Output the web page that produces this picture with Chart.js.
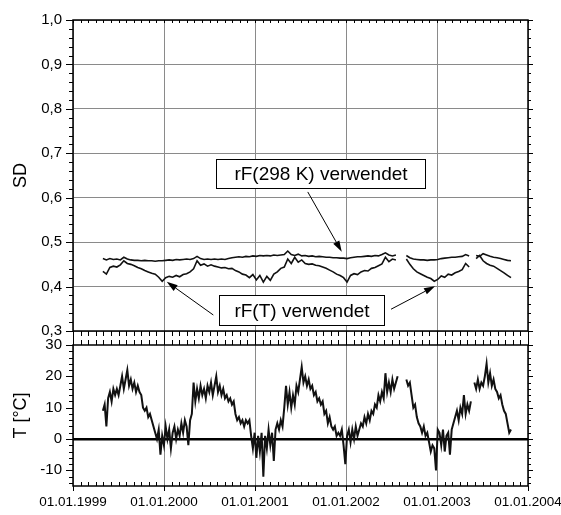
<!DOCTYPE html>
<html>
<head>
<meta charset="utf-8">
<script src="https://cdn.jsdelivr.net/npm/chart.js@4.4.0/dist/chart.umd.min.js"></script>
<style>
  body { margin: 0; background: #fff; }
  #wrap { position: relative; width: 561px; height: 515px; }
  #wrap canvas { position: absolute; left: 0; top: 0; }
</style>
</head>
<body>
<div id="wrap">
  <canvas id="sdChart" width="561" height="515"></canvas>
  <canvas id="tChart" width="561" height="515"></canvas>
</div>
<script>
// tick values
const yearTicks = [1999, 2000, 2001, 2002, 2003, 2004];
const sdTicks = [0.3, 0.4, 0.5, 0.6, 0.7, 0.8, 0.9, 1.0];
const tTicks = [-10, 0, 10, 20, 30];

// temperature, one value per week starting 01.05.1999 (null = no data)
const tStartDay = 120;
const tStepDays = 7;
const tempValues = [
  9, 11, 4, 13, 15, 12, 16, 14, 16, 14,
  17, 20, 16, 19, 22, 17, 19, 16, 18, 15,
  17, 15, 14, 10, 9, 10, 7, 8, 6, 4,
  2, 0, 3, -5, 1, -2, 4, 0, 3, -3,
  2, 4, 0, 3, 1, 5, 2, 6, 4, -2,
  6, 8, 18, 12, 16, 13, 17, 14, 16, 13,
  17, 15, 18, 14, 17, 20, 15, 17, 14, 16,
  13, 14, 12, 13, 11, 12, 8, 6, 7, 5,
  6, 4, 6, 5, 6, 1, -3, 2, -6, 1,
  -4, 2, -12, 1, -3, 3, -2, 2, -7, 3,
  5, 3, 6, 4, 10, 17, 11, 15, 10, 14,
  11, 17, 15, 19, 23, 18, 20, 17, 19, 16,
  17, 14, 15, 12, 13, 11, 12, 8, 9, 5,
  7, 4, 3, 4, 1, 2, 1, 3, -2, -8,
  1, 3, -1, 3, 0, 4, 1, 3, 5, 4,
  7, 5, 8, 6, 9, 8, 11, 10, 14, 12,
  15, 13, 21, 15, 18, 15, 19, 16, 18, 20,
  null, null, null, null, 19, 17, 18, 14, 10, 11,
  7, 5, 4, 2, 4, 1, 2, -1, -4, -2,
  -3, -10, 3, 2, -2, 3, -4, 1, 2, -5,
  3, 5, 7, 9, 6, 10, 8, 14, 8, 11,
  9, 12, null, 18, 16, 19, 16, 18, 17, 20,
  24, 18, 21, 17, 19, 16, 15, 13, 14, 11,
  9, 8, 5, 2, 3
];

// SD, one value every two weeks starting 01.05.1999
const sdStartDay = 120;
const sdStepDays = 14;
const sdFixed = [ // rF(298 K)
  0.463, 0.460, 0.463, 0.461, 0.462, 0.460, 0.466, 0.462, 0.460, 0.459,
  0.459, 0.458, 0.459, 0.458, 0.458, 0.457, 0.458, 0.458, 0.459, 0.460,
  0.459, 0.461, 0.460, 0.461, 0.462, 0.461, 0.463, 0.468, 0.463, 0.461,
  0.462, 0.461, 0.462, 0.461, 0.462, 0.461, 0.463, 0.465, 0.466, 0.467,
  0.466, 0.468, 0.467, 0.469, 0.468, 0.470, 0.469, 0.470, 0.469, 0.471,
  0.470, 0.471, 0.472, 0.480, 0.472, 0.470, 0.473, 0.469, 0.470, 0.468,
  0.469, 0.467, 0.468, 0.467, 0.466, 0.466, 0.465, 0.465, 0.464, 0.464,
  0.463, 0.465, 0.466, 0.467, 0.467, 0.468, 0.469, 0.468, 0.470, 0.469,
  0.472, 0.476, 0.471, 0.469, 0.471, null, null, 0.470, 0.465, 0.462,
  0.461, 0.460, 0.460, 0.459, 0.460, 0.460, 0.461, 0.463, 0.464, 0.465,
  0.466, 0.466, 0.467, 0.468, 0.472, 0.469, null, 0.470, 0.468, 0.474,
  0.471, 0.468, 0.466, 0.465, 0.463, 0.461, 0.459, 0.458
];
const sdVariable = [ // rF(T)
  0.434, 0.428, 0.443, 0.446, 0.444, 0.449, 0.458, 0.452, 0.450, 0.447,
  0.443, 0.440, 0.436, 0.433, 0.430, 0.428, 0.421, 0.412, 0.420, 0.423,
  0.421, 0.425, 0.422, 0.427, 0.429, 0.433, 0.440, 0.458, 0.448, 0.451,
  0.446, 0.449, 0.446, 0.444, 0.442, 0.443, 0.440, 0.441, 0.436, 0.433,
  0.428, 0.426, 0.420, 0.427, 0.415, 0.425, 0.410, 0.423, 0.414, 0.428,
  0.433, 0.441, 0.444, 0.462, 0.452, 0.466, 0.455, 0.460, 0.452, 0.450,
  0.451, 0.448, 0.447, 0.444, 0.441, 0.437, 0.433, 0.428, 0.425, 0.420,
  0.410, 0.425, 0.429, 0.427, 0.433, 0.436, 0.435, 0.441, 0.443, 0.447,
  0.451, 0.466, 0.456, 0.462, 0.460, null, null, 0.462, 0.450, 0.440,
  0.433, 0.429, 0.425, 0.421, 0.418, 0.412, 0.416, 0.424, 0.421, 0.428,
  0.426, 0.431, 0.434, 0.438, 0.452, 0.444, null, 0.463, 0.470, 0.458,
  0.452, 0.448, 0.446, 0.441, 0.436, 0.431, 0.425, 0.420
];

// labels with arrows, in data coordinates
const notes = [
  { text: 'rF(298 K) verwendet', box: [2000.57, 0.687, 2002.87, 0.622],
    arrows: [[2001.58, 0.613, 2001.953, 0.4785]] },
  { text: 'rF(T) verwendet', box: [2000.60, 0.380, 2002.42, 0.313],
    arrows: [[2000.542, 0.336, 2000.03, 0.411], [2002.495, 0.349, 2002.978, 0.401]] }
];

function toPoints(values, startDay, step) {
  return values.map((v, i) => ({ x: 1999 + (startDay + i * step) / 365.25, y: v }));
}

const FONT = "'Liberation Sans', Arial, sans-serif";
Chart.defaults.font.family = FONT;
Chart.defaults.color = '#000';

const months = [];
for (let y = 1999; y < 2004; y++) for (let m = 1; m < 12; m++) months.push(y + m / 12);

const framePlugin = {
  id: 'frame',
  afterDraw(chart, args, opts) {
    const { ctx, chartArea: a } = chart;
    const xs = chart.scales.x, ys = chart.scales.y;
    ctx.save();
    ctx.strokeStyle = '#000';
    ctx.lineWidth = 1;
    const tick = (px, py, dx, dy) => {
      ctx.beginPath(); ctx.moveTo(px, py); ctx.lineTo(px + dx, py + dy); ctx.stroke();
    };
    months.forEach(v => {
      const px = Math.round(xs.getPixelForValue(v)) + 0.5;
      tick(px, a.top, 0, opts.topMinor);
      tick(px, a.bottom, 0, opts.bottomMinor);
    });
    yearTicks.forEach(v => {
      const px = Math.round(xs.getPixelForValue(v)) + 0.5;
      tick(px, a.top, 0, opts.topMajor);
      tick(px, a.bottom, 0, opts.bottomMajor);
    });
    for (let v = opts.yMin; v <= opts.yMax + 1e-9; v += opts.yMinor) {
      const py = Math.round(ys.getPixelForValue(v)) + 0.5;
      tick(a.left, py, -4, 0);
      tick(a.right, py, 3, 0);
    }
    opts.yMajors.forEach(v => {
      const py = Math.round(ys.getPixelForValue(v)) + 0.5;
      tick(a.left, py, -7, 0);
      tick(a.right, py, 5, 0);
    });
    ctx.lineWidth = 1.5;
    ctx.strokeRect(a.left, a.top, a.right - a.left, a.bottom - a.top);
    ctx.restore();
  }
};

const notesPlugin = {
  id: 'notes',
  afterDatasetsDraw(chart) {
    const { ctx } = chart;
    const xs = chart.scales.x, ys = chart.scales.y;
    ctx.save();
    ctx.strokeStyle = '#000';
    ctx.fillStyle = '#000';
    ctx.lineWidth = 1;
    notes.forEach(n => {
      n.arrows.forEach(([x0, y0, x1, y1]) => {
        const ax = xs.getPixelForValue(x0), ay = ys.getPixelForValue(y0);
        const bx = xs.getPixelForValue(x1), by = ys.getPixelForValue(y1);
        const ang = Math.atan2(by - ay, bx - ax);
        const len = 11, hw = 3.5;
        const cx = bx - len * Math.cos(ang), cy = by - len * Math.sin(ang);
        ctx.beginPath(); ctx.moveTo(ax, ay); ctx.lineTo(cx, cy); ctx.stroke();
        ctx.beginPath();
        ctx.moveTo(bx, by);
        ctx.lineTo(cx + hw * Math.sin(ang), cy - hw * Math.cos(ang));
        ctx.lineTo(cx - hw * Math.sin(ang), cy + hw * Math.cos(ang));
        ctx.closePath(); ctx.fill();
      });
      const l = Math.round(xs.getPixelForValue(n.box[0])) + 0.5;
      const t = Math.round(ys.getPixelForValue(n.box[1])) + 0.5;
      const r = Math.round(xs.getPixelForValue(n.box[2])) + 0.5;
      const b = Math.round(ys.getPixelForValue(n.box[3])) + 0.5;
      ctx.fillStyle = '#fff';
      ctx.fillRect(l, t, r - l, b - t);
      ctx.strokeRect(l, t, r - l, b - t);
      ctx.fillStyle = '#000';
      ctx.font = '19px ' + FONT;
      ctx.textAlign = 'center';
      ctx.textBaseline = 'middle';
      ctx.fillText(n.text, (l + r) / 2, (t + b) / 2 + 1);
    });
    ctx.restore();
  }
};

const gridGray = '#8a8a8a';

const xBase = {
  type: 'linear',
  min: 1999,
  max: 2004,
  afterBuildTicks: s => { s.ticks = yearTicks.map(v => ({ value: v })); },
  border: { display: false },
  grid: { color: gridGray, lineWidth: 1, drawTicks: false }
};

new Chart(document.getElementById('sdChart'), {
  type: 'line',
  data: {
    datasets: [
      { label: 'rF(298 K) verwendet', data: toPoints(sdFixed, sdStartDay, sdStepDays) },
      { label: 'rF(T) verwendet', data: toPoints(sdVariable, sdStartDay, sdStepDays) }
    ].map(d => Object.assign(d, { borderColor: '#111', borderWidth: 1.6, pointRadius: 0, tension: 0, spanGaps: false }))
  },
  options: {
    responsive: false,
    animation: false,
    layout: { padding: { top: 20, right: 33, bottom: 184, left: 0 } },
    plugins: {
      legend: { display: false },
      tooltip: { enabled: false },
      frame: { topMinor: 3, bottomMinor: 5, topMajor: 3, bottomMajor: 7, yMin: 0.3, yMax: 1.0, yMinor: 0.02, yMajors: sdTicks }
    },
    scales: {
      x: Object.assign({}, xBase, {
        ticks: { display: false },
        afterFit: s => { s.height = 0; s.paddingLeft = 0; s.paddingRight = 0; }
      }),
      y: {
        min: 0.3,
        max: 1.0,
        afterBuildTicks: s => { s.ticks = sdTicks.map(v => ({ value: v })); },
        afterFit: s => { s.width = 73; s.paddingTop = 0; s.paddingBottom = 0; },
        border: { display: false },
        grid: { color: gridGray, lineWidth: 1, drawTicks: false },
        ticks: {
          padding: 11,
          font: { size: 15 },
          callback: v => v.toFixed(1).replace('.', ',')
        },
        title: { display: true, text: 'SD', font: { size: 18 }, padding: { top: 10, bottom: 0 } }
      }
    }
  },
  plugins: [framePlugin, notesPlugin]
});

new Chart(document.getElementById('tChart'), {
  type: 'line',
  data: {
    datasets: [{
      label: 'T',
      data: toPoints(tempValues, tStartDay, tStepDays),
      borderColor: '#111',
      borderWidth: 2,
      pointRadius: 0,
      tension: 0,
      spanGaps: false
    }]
  },
  options: {
    responsive: false,
    animation: false,
    layout: { padding: { top: 345, right: 33, bottom: 0, left: 0 } },
    plugins: {
      legend: { display: false },
      tooltip: { enabled: false },
      frame: { topMinor: -5, bottomMinor: -4, topMajor: -7, bottomMajor: 5, yMin: -14, yMax: 30, yMinor: 2, yMajors: tTicks }
    },
    scales: {
      x: Object.assign({}, xBase, {
        ticks: {
          padding: 8,
          maxRotation: 0,
          font: { size: 13.5 },
          callback: v => '01.01.' + v
        },
        afterFit: s => { s.height = 29; s.paddingLeft = 0; s.paddingRight = 0; }
      }),
      y: {
        min: -15,
        max: 30,
        afterBuildTicks: s => { s.ticks = tTicks.map(v => ({ value: v })); },
        afterFit: s => { s.width = 73; s.paddingTop = 0; s.paddingBottom = 0; },
        border: { display: false },
        grid: {
          drawTicks: false,
          color: c => (c.tick && c.tick.value === 0 ? '#000' : 'rgba(0,0,0,0)'),
          lineWidth: c => (c.tick && c.tick.value === 0 ? 2.5 : 0)
        },
        ticks: { padding: 11, font: { size: 15 } },
        title: { display: true, text: 'T [°C]', font: { size: 18 }, padding: { top: 10, bottom: 0 } }
      }
    }
  },
  plugins: [framePlugin]
});
</script>
</body>
</html>
